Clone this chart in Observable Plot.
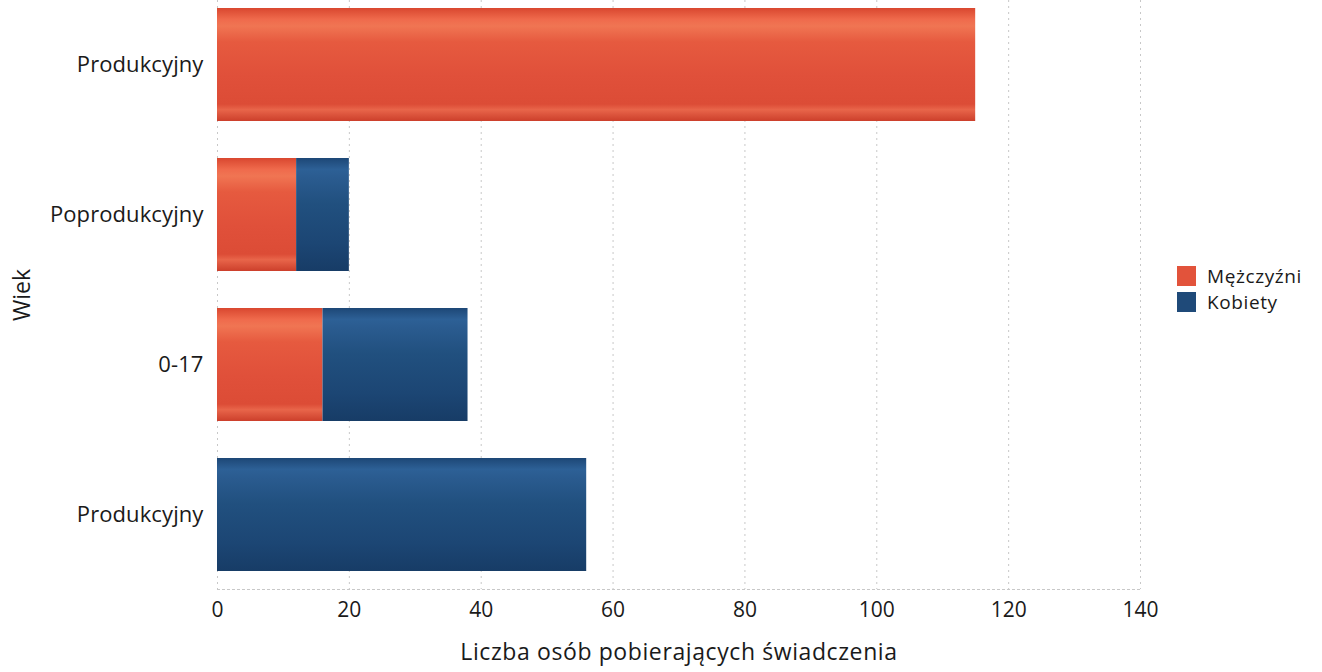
<!DOCTYPE html>
<html>
<head>
<meta charset="utf-8">
<script src="https://cdn.jsdelivr.net/npm/d3@7"></script>
<script src="https://cdn.jsdelivr.net/npm/@observablehq/plot@0.6"></script>
<style>
  html, body { margin: 0; padding: 0; background: #fff; }
  #wrap { position: relative; width: 1322px; height: 672px; font-family: "Open Sans", "Noto Sans", sans-serif; }
  #legend { position: absolute; left: 1177px; top: 263px; font-size: 19px; color: #1a1a1a; line-height: 26px; }
  #legend .item { display: flex; align-items: center; height: 26px; }
  #legend .sw { width: 19px; height: 20px; margin-right: 11px; }
  #legend span { letter-spacing: 0.6px; }
  g[aria-label="x-axis label"] text { letter-spacing: 0.6px; }
  g[aria-label="y-axis tick label"] text { letter-spacing: 0.1px; }
</style>
</head>
<body>
<div id="wrap"></div>
<script>
// Data
const ageLabels = ["Produkcyjny", "Poprodukcyjny", "0-17", "Produkcyjny"];
const seriesNames = ["Mężczyźni", "Kobiety"];
const menValues = [115, 12, 16, 0];
const womenValues = [0, 8, 22, 56];
const xTicks = [0, 20, 40, 60, 80, 100, 120, 140];
const seriesColors = ["#e2533b", "#1f4a79"];

const rows = [];
ageLabels.forEach((lab, i) => rows.push({key: i, group: lab, series: seriesNames[0], value: menValues[i]}));
ageLabels.forEach((lab, i) => rows.push({key: i, group: lab, series: seriesNames[1], value: womenValues[i]}));

const chart = Plot.plot({
  width: 1322,
  height: 672,
  marginLeft: 217,
  marginRight: 182,
  marginTop: 0,
  marginBottom: 83,
  style: {fontFamily: '"Open Sans", "Noto Sans", sans-serif', fontSize: "21px", color: "#1a1a1a", background: "#fff"},
  x: {domain: [0, 140], ticks: xTicks},
  y: {domain: ageLabels.map((d, i) => i), paddingInner: 0.25, paddingOuter: 0.088, align: 0.3},
  color: {type: "ordinal", domain: seriesNames, range: ["url(#gradRed)", "url(#gradBlue)"]},
  marks: [
    Plot.gridX(xTicks, {stroke: "#c8c8c8", strokeOpacity: 1, strokeDasharray: "2,4"}),
    Plot.frame({anchor: "bottom", stroke: "#c8c8c8", strokeDasharray: "2,3"}),
    Plot.barX(rows, Plot.stackX({y: "key", x: "value", fill: "series", order: null})),
    Plot.axisX({ticks: xTicks, tickSize: 0, tickPadding: 13, fontSize: 21, label: null}),
    Plot.axisX({ticks: [], tickSize: 0, fontSize: 23,
      label: "Liczba osób pobierających świadczenia", labelAnchor: "center", labelArrow: "none", labelOffset: 70}),
    Plot.axisY({tickSize: 0, tickPadding: 14, fontSize: 22, tickFormat: i => ageLabels[i], label: null}),
    Plot.axisY({ticks: [], tickSize: 0, fontSize: 23,
      label: "Wiek", labelAnchor: "center", labelArrow: "none", labelOffset: 204})
  ]
});

// gradients for the glossy bars
const ns = "http://www.w3.org/2000/svg";
const defs = document.createElementNS(ns, "defs");
function grad(id, stops) {
  const g = document.createElementNS(ns, "linearGradient");
  g.setAttribute("id", id);
  g.setAttribute("x1", "0"); g.setAttribute("y1", "0");
  g.setAttribute("x2", "0"); g.setAttribute("y2", "1");
  stops.forEach(([o, c]) => {
    const s = document.createElementNS(ns, "stop");
    s.setAttribute("offset", o);
    s.setAttribute("stop-color", c);
    g.appendChild(s);
  });
  defs.appendChild(g);
}
grad("gradRed", [[0, "#d9472f"], [0.1, "#ef6a4c"], [0.16, "#f07553"], [0.3, "#e65a3f"], [0.6, "#e0503a"], [0.85, "#dc4c36"], [0.9, "#e8654a"], [1, "#cc3f2b"]]);
grad("gradBlue", [[0, "#1d4776"], [0.1, "#2d6096"], [0.18, "#2a5b8f"], [0.4, "#21507f"], [0.75, "#1c4674"], [1, "#173c66"]]);
chart.insertBefore(defs, chart.firstChild);

const wrap = document.getElementById("wrap");
wrap.appendChild(chart);

const legend = document.createElement("div");
legend.id = "legend";
seriesNames.forEach((n, i) => {
  const it = document.createElement("div");
  it.className = "item";
  const sw = document.createElement("div");
  sw.className = "sw";
  sw.style.background = seriesColors[i];
  const t = document.createElement("span");
  t.textContent = n;
  it.appendChild(sw); it.appendChild(t);
  legend.appendChild(it);
});
wrap.appendChild(legend);
</script>
</body>
</html>
